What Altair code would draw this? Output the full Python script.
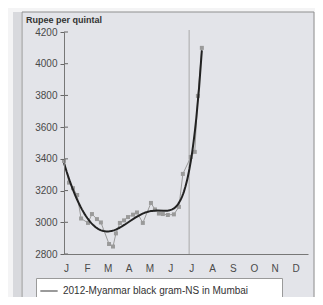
import altair as alt
import pandas as pd

# ---- data ----
month_pos = [-0.1, 0.14, 0.33, 0.53, 0.72, 1.05, 1.24, 1.48, 1.67, 2.06,
             2.25, 2.39, 2.58, 2.78, 2.97, 3.21, 3.40, 3.68, 4.07, 4.26,
             4.45, 4.64, 4.88, 5.17, 5.41, 5.60, 5.98, 6.17, 6.32, 6.51]
price = [3387, 3250, 3215, 3172, 3024, 2996, 3052, 3020, 2999, 2863,
         2847, 2930, 2996, 3012, 3033, 3048, 3062, 2996, 3122, 3081,
         3055, 3052, 3046, 3050, 3097, 3305, 3412, 3444, 3797, 4100]
month_labels = ["J", "F", "M", "A", "M", "J", "J", "A", "S", "O", "N", "D"]
y_ticks = [2800, 3000, 3200, 3400, 3600, 3800, 4000, 4200]
marker_month = [5.9]
series_name = "2012-Myanmar black gram-NS in Mumbai"
trend_name = "Poly. (2012-Myanmar black gram-NS in Mumbai)"
y_title = "Rupee per quintal"

df = pd.DataFrame({"month": month_pos, "price": price, "series": series_name})
ticks_df = pd.DataFrame({"price": y_ticks})
vline_df = pd.DataFrame({"month": marker_month})

FONT = "Liberation Sans"
W, H = 244, 222

xs = alt.Scale(domain=[-0.1, 11.6], nice=False, zero=False)
ys = alt.Scale(domain=[2800, 4200], nice=False, zero=False)

X = alt.X("month:Q", scale=xs, title=None,
          axis=alt.Axis(values=list(range(12)), ticks=False, grid=False, zindex=1,
                        labelOverlap=False, labelFlush=False,
                        labelExpr="%s[datum.value]" % str(month_labels),
                        labelFont=FONT, labelFontSize=10, labelColor="#4a4a4a",
                        labelPadding=9, domainColor="#777777"))
Y = alt.Y("price:Q", scale=ys, title=None,
          axis=alt.Axis(values=y_ticks, grid=False, tickSize=4, tickColor="#666666",
                        zindex=1, labelOverlap=False, labelFlush=False, format="d",
                        labelFont=FONT, labelFontSize=10, labelColor="#4a4a4a",
                        labelPadding=3, domainColor="#777777"))

color = alt.Color(
    "series:N",
    scale=alt.Scale(domain=[series_name, trend_name], range=["#9a9a9a", "#222222"]),
    legend=alt.Legend(
        title=None, orient="none", legendX=-28, legendY=246,
        fillColor="#ffffff", strokeColor="#9a9a9a", padding=3,
        symbolType="stroke", symbolSize=300, symbolStrokeWidth=2,
        labelFont=FONT, labelFontSize=10, labelColor="#333333",
        labelLimit=400, rowPadding=2, zindex=2,
    ),
)

panel = alt.Chart(alt.Data(values=[{"a": 1}])).mark_rect(
    fill="#e3e4e9", stroke="#8f8f8f", strokeWidth=1
).encode(x=alt.value(-42), x2=alt.value(250), y=alt.value(-20), y2=alt.value(300))

band = alt.Chart(alt.Data(values=[{"a": 1}])).mark_rect(
    fill="#d8d9dd"
).encode(x=alt.value(-51), x2=alt.value(-43), y=alt.value(-20), y2=alt.value(300))

title_txt = alt.Chart(alt.Data(values=[{"t": y_title}])).mark_text(
    font=FONT, fontSize=9, fontWeight="bold", color="#333333",
    align="left", baseline="top"
).encode(text="t:N", x=alt.value(-38), y=alt.value(-16))

vline = alt.Chart(vline_df).mark_rule(color="#a9a9a9", strokeWidth=1).encode(
    x=X, y=alt.value(-2), y2=alt.value(H)
)

inner_ticks = alt.Chart(ticks_df).mark_rule(color="#666666", strokeWidth=1).encode(
    y=Y, x=alt.value(0), x2=alt.value(4)
)

base = alt.Chart(df).encode(x=X, y=Y, color=color)

data_line = base.mark_line(strokeWidth=1)
data_pts = base.mark_square(size=16, opacity=1, filled=True)

trend = alt.Chart(df).transform_regression(
    "month", "price", method="poly", order=6
).transform_calculate(series="'%s'" % trend_name).mark_line(strokeWidth=2).encode(
    x=X, y=Y, color=color
)

chart = alt.layer(
    panel, band, title_txt, vline, data_line, data_pts, trend, inner_ticks
).properties(
    width=W, height=H,
    autosize=alt.AutoSizeParams(type="none"),
    padding={"left": 56, "top": 24, "right": 7, "bottom": 43},
    background="#f4f4f5",
).configure_view(stroke=None)

chart.save("out.html", embed_options={"renderer": "svg", "actions": False})
